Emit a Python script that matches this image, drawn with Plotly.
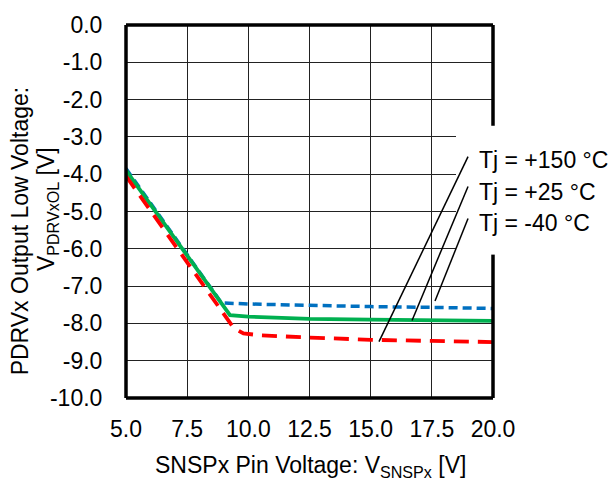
import plotly.graph_objects as go

# Data
x_150 = [5.0, 8.9, 10.0, 12.5, 15.0, 17.5, 20.0]
y_150 = [-3.85, -7.45, -7.48, -7.52, -7.55, -7.57, -7.60]

x_25 = [5.0, 9.25, 10.0, 12.5, 15.0, 17.5, 20.0]
y_25 = [-3.90, -7.78, -7.82, -7.88, -7.90, -7.92, -7.93]

x_m40 = [5.0, 9.05, 9.4, 9.8, 10.5, 12.5, 15.0, 17.5, 20.0]
y_m40 = [-4.05, -7.80, -8.12, -8.27, -8.32, -8.38, -8.44, -8.47, -8.50]

labels = ["Tj = +150 °C", "Tj = +25 °C", "Tj = -40 °C"]
x_ticks = [5.0, 7.5, 10.0, 12.5, 15.0, 17.5, 20.0]
y_ticks = [0.0, -1.0, -2.0, -3.0, -4.0, -5.0, -6.0, -7.0, -8.0, -9.0, -10.0]

FONT = "Liberation Sans, Arial, sans-serif"
FS = 23

fig = go.Figure()
fig.add_trace(go.Scatter(x=x_150, y=y_150, mode="lines", name=labels[0],
                         line=dict(color="#0070C0", width=3.5, dash="9px,5px")))
fig.add_trace(go.Scatter(x=x_25, y=y_25, mode="lines", name=labels[1],
                         line=dict(color="#00B050", width=3.8)))
fig.add_trace(go.Scatter(x=x_m40, y=y_m40, mode="lines", name=labels[2],
                         line=dict(color="#FF0000", width=3.8, dash="15px,9px")))

shapes = []
# white box behind the labels (covers grid and right frame)
shapes.append(dict(type="rect", xref="paper", yref="paper",
                   x0=(456 - 126) / 367, x1=1.5,
                   y0=(398 - 250) / 385, y1=(398 - 117) / 385,
                   fillcolor="white", line=dict(width=0), layer="above"))
# frame
lw = 3.5
shapes += [
    dict(type="line", xref="paper", yref="paper", x0=0, x1=0, y0=0, y1=1, line=dict(color="black", width=lw), layer="above"),
    dict(type="line", xref="paper", yref="paper", x0=0, x1=1, y0=0, y1=0, line=dict(color="black", width=lw), layer="above"),
    dict(type="line", xref="paper", yref="paper", x0=0, x1=1, y0=1, y1=1, line=dict(color="black", width=lw), layer="above"),
    dict(type="line", xref="paper", yref="paper", x0=1, x1=1, y0=0, y1=(398 - 250) / 385, line=dict(color="black", width=lw), layer="above"),
    dict(type="line", xref="paper", yref="paper", x0=1, x1=1, y0=(398 - 117) / 385, y1=1, line=dict(color="black", width=lw), layer="above"),
]
# leader lines
leaders = [((18.98, -3.53), (15.34, -8.49)),
           ((18.98, -4.33), (16.69, -7.92)),
           ((18.98, -5.19), (17.63, -7.40))]
for (xa, ya), (xb, yb) in leaders:
    shapes.append(dict(type="line", xref="x", yref="y", x0=xa, y0=ya, x1=xb, y1=yb,
                       line=dict(color="black", width=1.5), layer="above"))

annotations = []
for lab, py in zip(labels, [152, 185, 217]):
    annotations.append(dict(text=lab, xref="paper", yref="paper",
                            x=(477 - 126) / 367, y=(398 - py) / 385,
                            xanchor="left", yanchor="middle", showarrow=False,
                            font=dict(family=FONT, size=FS, color="black")))
# y-axis title (two lines)
annotations.append(dict(text="PDRVx Output Low Voltage:", xref="paper", yref="paper",
                        x=(20 - 126) / 367, y=(398 - 226) / 385, textangle=-90, showarrow=False,
                        xanchor="center", yanchor="middle",
                        font=dict(family=FONT, size=FS, color="black")))
annotations.append(dict(text="V<sub>PDRVxOL</sub> [V]", xref="paper", yref="paper",
                        x=(47 - 126) / 367, y=(398 - 203) / 385, textangle=-90, showarrow=False,
                        xanchor="center", yanchor="middle",
                        font=dict(family=FONT, size=FS, color="black")))
# x-axis title
annotations.append(dict(text="SNSPx Pin Voltage: V<sub>SNSPx</sub> [V]", xref="paper", yref="paper",
                        x=(310 - 126) / 367, y=(398 - 469) / 385, showarrow=False,
                        xanchor="center", yanchor="middle",
                        font=dict(family=FONT, size=FS, color="black")))

fig.update_layout(
    width=614, height=481,
    margin=dict(l=126, r=121, t=13, b=83),
    paper_bgcolor="white", plot_bgcolor="white",
    showlegend=False,
    shapes=shapes, annotations=annotations,
    font=dict(family=FONT, size=FS, color="black"),
)
fig.update_xaxes(range=[5, 20], tickvals=x_ticks,
                 ticktext=[f"{v:.1f}" for v in x_ticks],
                 showgrid=True, gridcolor="#222222", gridwidth=1,
                 ticks="outside", ticklen=10, tickcolor="rgba(255,255,255,0)",
                 zeroline=False, showline=False,
                 tickfont=dict(family=FONT, size=FS))
fig.update_yaxes(range=[-10, 0], tickvals=y_ticks,
                 ticktext=[f"{v:.1f}" for v in y_ticks],
                 showgrid=True, gridcolor="#222222", gridwidth=1,
                 ticks="outside", ticklen=18, tickcolor="rgba(255,255,255,0)",
                 zeroline=False, showline=False,
                 tickfont=dict(family=FONT, size=FS))

fig.write_html("out.html")
